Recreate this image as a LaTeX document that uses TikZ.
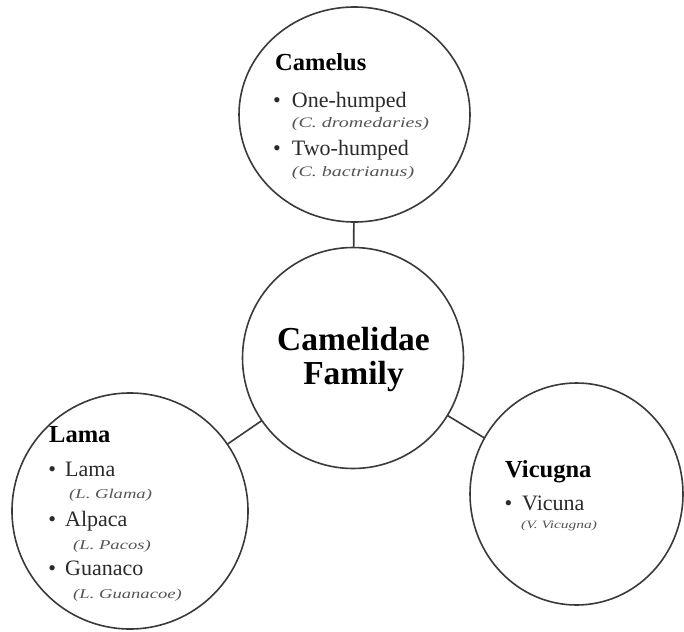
\documentclass[tikz,border=0pt]{standalone}
\usepackage{fontspec}
\setmainfont{Liberation Serif}
\newfontfamily\spfont[FakeStretch=1.38]{Liberation Serif}
\usetikzlibrary{shapes.geometric}
\definecolor{ringc}{HTML}{3A3A3A}
\definecolor{txtc}{HTML}{2A2A2A}
\definecolor{spc}{HTML}{555555}
\tikzset{
  ringnode/.style={draw=ringc, line width=1.6pt, ellipse, inner sep=0pt, outer sep=0pt, fill=white},
  link/.style={draw=ringc, line width=1.6pt},
  ttl/.style={anchor=base west, inner sep=0pt, text=black, font=\bfseries\fontsize{24.5}{26}\selectfont},
  itm/.style={anchor=base west, inner sep=0pt, text=txtc, font=\fontsize{22}{24}\selectfont},
  sp/.style={anchor=base west, inner sep=0pt, text=spc, font=\spfont\itshape\fontsize{#1}{#1}\selectfont},
  famtxt/.style={anchor=base, inner sep=0pt, text=black, font=\bfseries\fontsize{33.5}{34}\selectfont},
}
\newcommand{\bul}[1]{\llap{\textbullet\hspace{#1}}}
\begin{document}
\begin{tikzpicture}[x=1pt,y=-1pt]
\useasboundingbox (0,0) rectangle (684,631);
\fill[white] (0,0) rectangle (684,631);
% circles
\node[ringnode, minimum width=231pt, minimum height=215pt] (camelus) at (354.5,114.5) {};
\node[ringnode, minimum width=221pt, minimum height=221pt] (family) at (353,358) {};
\node[ringnode, minimum width=236pt, minimum height=236pt] (lama) at (130,511) {};
\node[ringnode, minimum width=213pt, minimum height=222pt] (vicugna) at (576.5,494) {};
% connectors
\draw[link] (camelus) -- (family);
\draw[link] (lama) -- (family);
\draw[link] (vicugna) -- (family);
% centre text
\node[famtxt] (famA) at (353.5,350.7) {Camelidae};
\node[famtxt] (famB) at (353.5,384) {Family};
% Camelus
\node[ttl] (cT) at (275,70.7) {Camelus};
\node[itm] (c1) at (291.7,108) {\bul{11pt}One-humped};
\node[sp=14.5] (c1s) at (291.7,128) {(C. dromedaries)};
\node[itm] (c2) at (291.7,155) {\bul{11pt}Two-humped};
\node[sp=14.5] (c2s) at (291.7,176) {(C. bactrianus)};
% Lama
\node[ttl] (lT) at (49,442.7) {Lama};
\node[itm] (l1) at (65,476.7) {\bul{9pt}Lama};
\node[sp=13.5] (l1s) at (69,498) {(L. Glama)};
\node[itm] (l2) at (65,526.7) {\bul{9pt}Alpaca};
\node[sp=13.5] (l2s) at (73,549) {(L. Pacos)};
\node[itm] (l3) at (65,575) {\bul{9pt}Guanaco};
\node[sp=13.5] (l3s) at (73,598) {(L. Guanacoe)};
% Vicugna
\node[ttl] (vT) at (505,477) {Vicugna};
\node[itm] (v1) at (522,510.7) {\bul{10pt}Vicuna};
\node[sp=11.2] (v1s) at (521,528) {(V. Vicugna)};
\end{tikzpicture}
\end{document}
